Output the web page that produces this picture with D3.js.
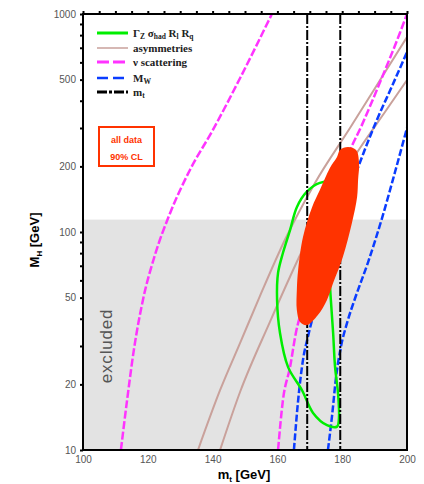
<!DOCTYPE html>
<html><head><meta charset="utf-8">
<script src="https://cdn.jsdelivr.net/npm/d3@7"></script>
<style>html,body{margin:0;padding:0;background:#fff;}</style>
</head><body>
<script>
// ---- data ----
const mtTicks = [100, 120, 140, 160, 180, 200];
const mhTicks = [10, 20, 50, 100, 200, 500, 1000];
const excludedLimit = 114;            // M_H direct search limit
const mtBand = [169.2, 179.4];        // m_t measurement band edges
// [m_t, M_H] points
const nuLeft = [[111.7,10],[113.6,16.9],[115.7,28.8],[118.5,48.8],[122.2,78.4],[126.9,122.3],[133.0,192.5],[140.1,294],[148.5,508.7],[158.3,1000]];
const nuRight = [[160.2,10],[161.7,16.9],[163.9,24.0],[165.7,34.4],[168.5,48.8],[172.5,82.7],[177.2,140],[181.8,225.5],[186.1,310],[191.7,487.6],[197.8,818],[200,1000]];
const asymLeft = [[135.5,10],[142.3,18.8],[148.5,31.0],[154.6,50.8],[162.3,91.9],[171.6,168],[182.4,300],[191.7,498],[200,784]];
const asymRight = [[142.3,10],[148.5,18.5],[157.7,38.7],[167.0,78.4],[176.2,148],[185.5,243],[193.2,355],[200,498]];
const mwLeft = [[165.1,10],[166.4,16.9],[167.9,25.9],[169.4,33.0],[170.7,39.5],[174.7,62.8],[179.3,107.7],[183.0,164.3],[186.7,232.8],[190.7,326.5],[195.4,467.5],[200,669]];
const mwRight = [[175.6,10],[176.9,14.5],[178.1,21.6],[179.6,29.7],[181.5,38.3],[184.0,49.8],[188.0,72.8],[192.3,115.9],[196.3,188.4],[200,300]];
const zContour = [[178.0,168],[173.1,168],[169.1,153],[166.0,130],[163.9,102],[161.7,80.1],[160.2,64.9],[159.9,48.8],[160.8,34.4],[163.3,24.0],[167.6,18.8],[171.0,14.8],[175.3,13.0],[178.4,12.8],[179.0,14.0],[178.7,18.3],[177.8,24.0],[177.2,34.4],[176.5,48.8],[176.2,60.2],[176.8,95],[177.8,135]];
const allData = [[179.3,237.7],[181.8,245.4],[184.3,237.7],[185.2,207],[184.9,173.2],[184.6,144.7],[183.0,110],[180.2,76.8],[177.2,58.3],[175.3,48.8],[172.5,41.6],[169.1,37.4],[167.0,38.7],[166.0,43.9],[166.0,54.2],[166.4,66.9],[167.9,94.9],[170.7,130],[173.1,156],[176.2,196.7],[178.4,220.8]];

const W = 424, H = 484;
const L = 83, R = 407, T = 14, B = 450;
const svg = d3.select("body").append("svg").attr("width", W).attr("height", H)
  .style("font-family", "Liberation Sans, Arial, sans-serif");

const x = d3.scaleLinear().domain([100, 200]).range([L, R]);
const y = d3.scaleLog().domain([10, 1000]).range([B, T]);

svg.append("defs").append("clipPath").attr("id", "clip")
  .append("rect").attr("x", L).attr("y", T).attr("width", R - L).attr("height", B - T);

const plot = svg.append("g").attr("clip-path", "url(#clip)");

// excluded region
plot.append("rect").attr("x", x(100)).attr("y", y(excludedLimit))
  .attr("width", x(200) - x(100)).attr("height", y(10) - y(excludedLimit))
  .attr("fill", "#e3e3e3");

const line = d3.line().x(d => x(d[0])).y(d => y(d[1])).curve(d3.curveMonotoneX);
const closed = d3.line().x(d => x(d[0])).y(d => y(d[1])).curve(d3.curveCatmullRomClosed);

const brown = "#c9a19b", magenta = "#ff33ff", blue = "#0a3cff", green = "#00ee00", red = "#ff3300";

[asymLeft, asymRight].forEach(c => plot.append("path").attr("d", line(c))
  .attr("fill", "none").attr("stroke", brown).attr("stroke-width", 2));
[nuLeft, nuRight].forEach(c => plot.append("path").attr("d", line(c))
  .attr("fill", "none").attr("stroke", magenta).attr("stroke-width", 2.5).attr("stroke-dasharray", "8,2.5"));
[mwLeft, mwRight].forEach(c => plot.append("path").attr("d", line(c))
  .attr("fill", "none").attr("stroke", blue).attr("stroke-width", 2.5).attr("stroke-dasharray", "7,2.5"));
plot.append("path").attr("d", closed(zContour)).attr("fill", "none")
  .attr("stroke", green).attr("stroke-width", 2.5);
mtBand.forEach(m => plot.append("line").attr("x1", x(m)).attr("x2", x(m))
  .attr("y1", y(1000)).attr("y2", y(10)).attr("stroke", "#000").attr("stroke-width", 2)
  .attr("stroke-dasharray", "10,2,2,2"));
plot.append("path").attr("d", closed(allData)).attr("fill", red).attr("stroke", "none");

// "excluded" label
svg.append("text").attr("transform", "translate(112,346) rotate(-90)")
  .attr("text-anchor", "middle").attr("font-size", 17).attr("letter-spacing", 0.8)
  .attr("fill", "#555").text("excluded");

// frame
svg.append("rect").attr("x", L).attr("y", T).attr("width", R - L).attr("height", B - T)
  .attr("fill", "none").attr("stroke", "#000").attr("stroke-width", 2);

// axes
const yAxis = d3.axisLeft(y).tickValues(d3.range(1, 10).map(k => k * 10)
    .concat(d3.range(1, 10).map(k => k * 100)).concat([1000]))
  .tickSize(3).tickFormat(d => mhTicks.includes(d) ? d : "");
const gy = svg.append("g").attr("transform", `translate(${L},0)`).call(yAxis);
gy.select(".domain").remove();
gy.selectAll("line").attr("stroke-width", 2);
gy.selectAll("text").attr("font-size", 10).attr("fill", "#555").attr("x", -7);

const xAxis = d3.axisBottom(x).tickValues(mtTicks).tickSize(0).tickFormat(d3.format("d"));
const gx = svg.append("g").attr("transform", `translate(0,${B})`).call(xAxis);
gx.select(".domain").remove();
gx.selectAll("text").attr("font-size", 10).attr("fill", "#555").attr("dy", "0.95em");

const xTop = d3.axisTop(x).tickValues(d3.range(100, 201, 5)).tickSize(3).tickFormat("");
const gt = svg.append("g").attr("transform", `translate(0,${T})`).call(xTop);
gt.select(".domain").remove();
gt.selectAll("line").attr("stroke-width", 2);

// axis titles
const xt = svg.append("text").attr("x", 244).attr("y", 479).attr("text-anchor", "middle")
  .attr("font-size", 13).attr("font-weight", "bold");
xt.append("tspan").text("m");
xt.append("tspan").attr("font-size", 8).attr("dy", 3).text("t");
xt.append("tspan").attr("dy", -3).text(" [GeV]");

const yt = svg.append("text").attr("transform", "translate(39,240) rotate(-90)")
  .attr("text-anchor", "middle").attr("font-size", 13).attr("font-weight", "bold");
yt.append("tspan").text("M");
yt.append("tspan").attr("font-size", 8).attr("dy", 3).text("H");
yt.append("tspan").attr("dy", -3).text(" [GeV]");

// legend
const lg = svg.append("g").style("font-family", "Liberation Serif, Times New Roman, serif")
  .attr("font-weight", "bold").attr("fill", "#222");
const items = [
  {c: green, w: 3, dash: null, y: 33},
  {c: brown, w: 1.5, dash: null, y: 48},
  {c: magenta, w: 3, dash: "12,4", y: 62},
  {c: blue, w: 2.5, dash: "11,5", y: 78},
  {c: "#000", w: 3, dash: "10,2,3,2", y: 92}
];
items.forEach(it => lg.append("line").attr("x1", 97).attr("x2", 128).attr("y1", it.y).attr("y2", it.y)
  .attr("stroke", it.c).attr("stroke-width", it.w).attr("stroke-dasharray", it.dash));
function sub(t, base, s) {
  t.append("tspan").text(base);
  t.append("tspan").attr("font-size", 7.5).attr("dy", 2).text(s);
  t.append("tspan").attr("dy", -2).text(" ");
}
const t1 = lg.append("text").attr("x", 133).attr("y", 37).attr("font-size", 11);
sub(t1, "Γ", "Z"); sub(t1, "σ", "had"); sub(t1, "R", "l"); sub(t1, "R", "q");
lg.append("text").attr("x", 133).attr("y", 52).attr("font-size", 11).text("asymmetries");
lg.append("text").attr("x", 133).attr("y", 66).attr("font-size", 11).text("ν scattering");
const t4 = lg.append("text").attr("x", 133).attr("y", 82).attr("font-size", 11);
sub(t4, "M", "W");
const t5 = lg.append("text").attr("x", 133).attr("y", 96).attr("font-size", 11);
t5.append("tspan").text("m"); t5.append("tspan").attr("font-size", 7.5).attr("dy", 2).text("t");

// all data box
svg.append("rect").attr("x", 99).attr("y", 127).attr("width", 55).attr("height", 39)
  .attr("fill", "#fff").attr("stroke", red).attr("stroke-width", 2);
svg.append("text").attr("x", 126.5).attr("y", 143).attr("text-anchor", "middle")
  .attr("font-size", 9).attr("font-weight", "bold").attr("fill", red).text("all data");
svg.append("text").attr("x", 126.5).attr("y", 160).attr("text-anchor", "middle")
  .attr("font-size", 9).attr("font-weight", "bold").attr("fill", red).text("90% CL");
</script>
</body></html>
